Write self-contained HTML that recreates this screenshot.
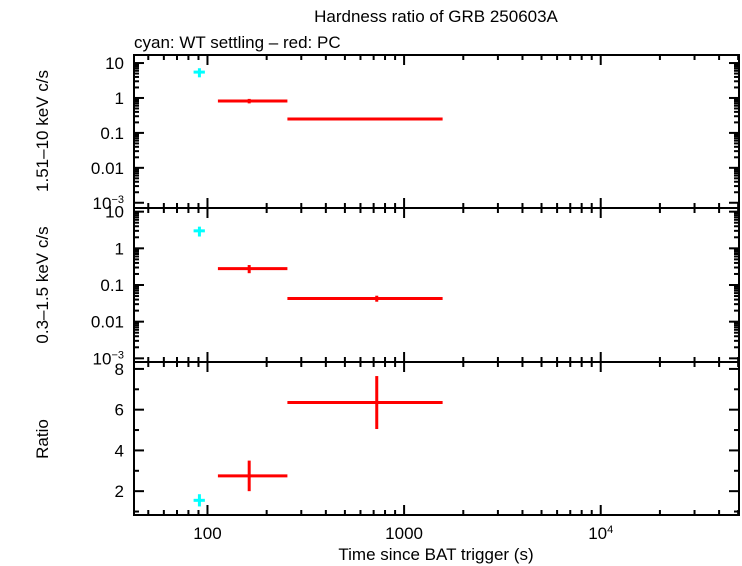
<!DOCTYPE html>
<html><head><meta charset="utf-8"><style>
html,body{margin:0;padding:0;background:#fff;width:742px;height:566px;overflow:hidden}
svg{display:block;font-family:"Liberation Sans",sans-serif}
</style></head><body>
<svg id="c" width="742" height="566"></svg>
<script>
// data
const wtT=[91], wtTlo=[85], wtThi=[97];
const wtHard=[5.5], wtHardErr=[1.6];
const wtSoft=[3.0], wtSoftErr=[0.9];
const wtRatio=[1.55], wtRatioErr=[0.3];
const pcT=[163,726], pcTlo=[113,255], pcThi=[255,1570];
const pcHard=[0.82,0.25], pcHardErr=[0.12,0.02];
const pcSoft=[0.28,0.043], pcSoftErr=[0.07,0.008];
const pcRatio=[2.75,6.35], pcRatioErr=[0.75,1.3];
const logTicks=[10,1,0.1,0.01];
const ratioTicks=[2,4,6,8];
const xTickVals=[100,1000,10000];
const xTickLabels=["100","1000","10^4"];

const NS="http://www.w3.org/2000/svg";
const svg=document.getElementById('c');
function mk(t,a,p){const e=document.createElementNS(NS,t);for(const k in a)e.setAttribute(k,a[k]);(p||svg).appendChild(e);return e;}
const L=134,R=739;
const xmin=Math.log10(42.3),xmax=Math.log10(50500);
const X=v=>L+(Math.log10(v)-xmin)/(xmax-xmin)*(R-L);
const panels=[
 {top:55,bot:208,log:true,lo:-3.15,hi:1.23},
 {top:208,bot:362,log:true,lo:-3.1,hi:1.1},
 {top:362,bot:515,log:false,lo:0.83,hi:8.34}
];
function Y(p,v){const t=p.log?Math.log10(v):v;return p.bot-(t-p.lo)/(p.hi-p.lo)*(p.bot-p.top);}
function line(x1,y1,x2,y2,c,w,g){return mk('line',{x1,y1,x2,y2,stroke:c,'stroke-width':w},g);}

panels.forEach((p,i)=>{
 const g=mk('g',{});
 
 
 for(let d=1;d<=5;d++)for(let m=1;m<10;m++){const v=m*Math.pow(10,d);if(v<42.3||v>50500)continue;const x=X(v);const len=m==1?10:5;
  line(x,p.top,x,p.top+len,'#000',2,g);line(x,p.bot,x,p.bot-len,'#000',2,g);}
 if(p.log){for(let d=-3;d<=1;d++)for(let m=1;m<10;m++){const v=m*Math.pow(10,d);const y=Y(p,v);if(y<p.top||y>p.bot)continue;const len=m==1?10:5;
   line(L,y,L+len,y,'#000',2,g);line(R,y,R-len,y,'#000',2,g);}
  logTicks.forEach(v=>{const t=mk('text',{x:L-10,y:Y(p,v)+6,'text-anchor':'end','font-size':17},g);t.textContent=String(v);});
  const t=mk('text',{x:L-10,y:Y(p,0.001)+6,'text-anchor':'end','font-size':17},g);t.innerHTML='10<tspan dy="-6" font-size="11">−3</tspan>';
 } else {
  for(let v=1;v<=8;v++){const y=Y(p,v);const len=v%2==0?10:5;line(L,y,L+len,y,'#000',2,g);line(R,y,R-len,y,'#000',2,g);}
  ratioTicks.forEach(v=>{const t=mk('text',{x:L-10,y:Y(p,v)+6,'text-anchor':'end','font-size':17},g);t.textContent=String(v);});
 }
 mk('rect',{x:L,y:p.top,width:R-L,height:p.bot-p.top,fill:'none',stroke:'#000','stroke-width':2},g);
});

function series(pi,T,lo,hi,V,E,col,name){
 const p=panels[pi];
 T.forEach((t,i)=>{const g=mk('g',{});
  
  
  line(X(lo[i]),Y(p,V[i]),X(hi[i]),Y(p,V[i]),col,3,g);
  line(X(t),Y(p,V[i]-E[i]),X(t),Y(p,V[i]+E[i]),col,3,g);});
}
series(0,wtT,wtTlo,wtThi,wtHard,wtHardErr,'#00ffff','wt-hard');
series(0,pcT,pcTlo,pcThi,pcHard,pcHardErr,'#ff0000','pc-hard');
series(1,wtT,wtTlo,wtThi,wtSoft,wtSoftErr,'#00ffff','wt-soft');
series(1,pcT,pcTlo,pcThi,pcSoft,pcSoftErr,'#ff0000','pc-soft');
series(2,wtT,wtTlo,wtThi,wtRatio,wtRatioErr,'#00ffff','wt-ratio');
series(2,pcT,pcTlo,pcThi,pcRatio,pcRatioErr,'#ff0000','pc-ratio');

xTickVals.forEach((v,i)=>{const t=mk('text',{x:X(v),y:539,'text-anchor':'middle','font-size':17});
 
 
 if(xTickLabels[i]=="10^4")t.innerHTML='10<tspan dy="-6" font-size="11">4</tspan>';else t.textContent=xTickLabels[i];});

function T(x,y,txt,name,extra){const e=document.createElementNS(NS,'text');e.setAttribute('x',x);e.setAttribute('y',y);e.setAttribute('font-size',17);if(extra)for(const k in extra)e.setAttribute(k,extra[k]);e.textContent=txt;


svg.appendChild(e);return e;}
T(436,22,'Hardness ratio of GRB 250603A','chart-title',{'text-anchor':'middle'});
T(134,48,'cyan: WT settling – red: PC','subtitle');
T(436,560,'Time since BAT trigger (s)','x-axis-title',{'text-anchor':'middle'});
T(0,0,'1.51–10 keV c/s','hard-axis-title',{'text-anchor':'middle',transform:'translate(48,131) rotate(-90)'});
T(0,0,'0.3–1.5 keV c/s','soft-axis-title',{'text-anchor':'middle',transform:'translate(48,285) rotate(-90)'});
T(0,0,'Ratio','ratio-axis-title',{'text-anchor':'middle',transform:'translate(48,439) rotate(-90)'});
</script>
</body></html>
